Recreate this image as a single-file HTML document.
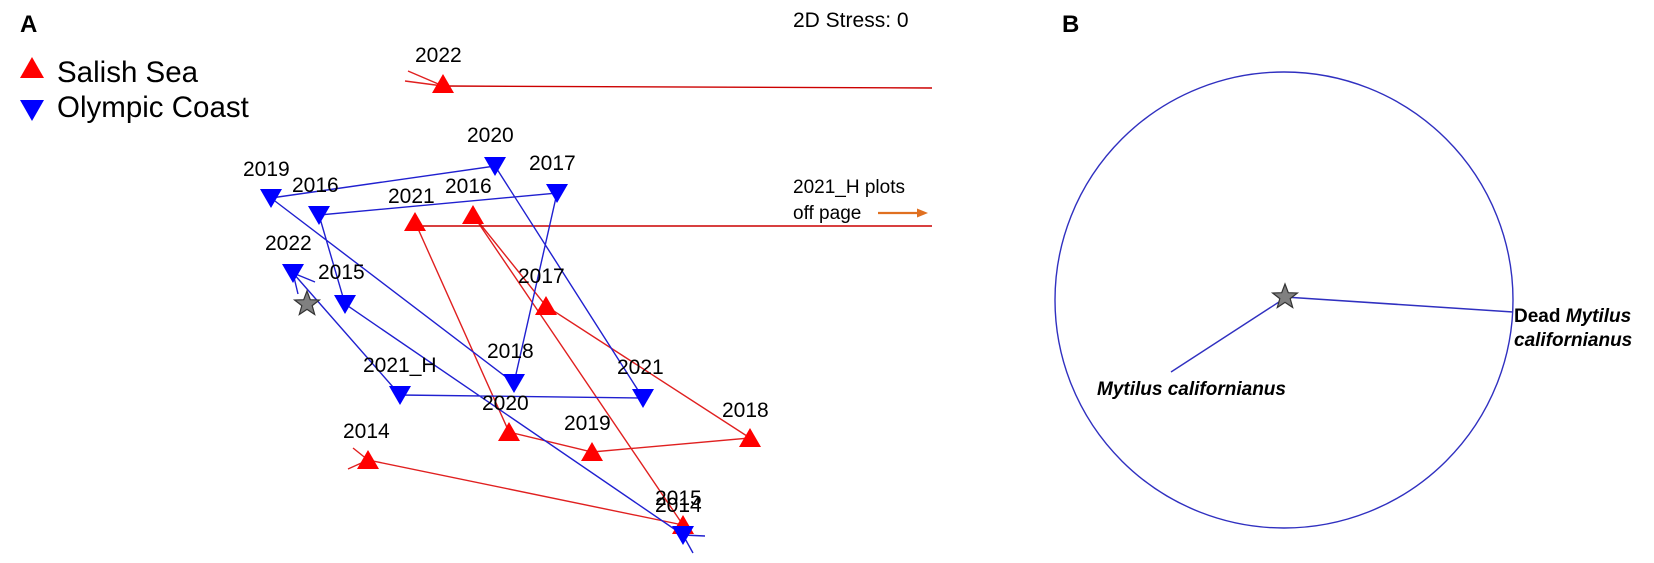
<!DOCTYPE html>
<html><head><style>body{margin:0;background:#fff}svg{display:block}text{font-family:"Liberation Sans",Arial,sans-serif}</style></head>
<body>
<svg width="1654" height="563" viewBox="0 0 1654 563" xmlns="http://www.w3.org/2000/svg">
<defs>
<g id="up"><polygon points="0,-10 -11,9 11,9" fill="#f00"/></g>
<g id="dn"><polygon points="0,10 -11,-9 11,-9" fill="#00f"/></g>
<g id="star"><polygon points="0,-13 3.3,-4.3 12.4,-4 5.2,1.6 7.7,10.5 0,5.4 -7.7,10.5 -5.2,1.6 -12.4,-4 -3.3,-4.3" fill="#808080" stroke="#333" stroke-width="1.2"/></g>
</defs>
<text x="20" y="32" font-size="24" font-weight="bold">A</text>
<polygon points="32,57 20,78 44,78" fill="#f00"/>
<text x="57" y="82" font-size="29.5">Salish Sea</text>
<polygon points="32,121 20,100 44,100" fill="#00f"/>
<text x="57" y="117" font-size="29.5">Olympic Coast</text>
<text x="793" y="27" font-size="21">2D Stress: 0</text>
<g stroke="#e02020" stroke-width="1.4" fill="none">
<polyline points="368,460 683,525 473,215 546,306 750,438 592,452 509,432 415,222"/>
<line x1="415" y1="226" x2="932" y2="226" stroke="#c00"/>
<line x1="932" y1="88" x2="443" y2="86" stroke="#c00"/>
<line x1="353" y1="448" x2="368" y2="460"/>
<line x1="348" y1="469" x2="368" y2="460"/>
<line x1="408" y1="71" x2="443" y2="86"/>
<line x1="405" y1="81" x2="443" y2="86"/>
</g>
<g stroke="#2020d0" stroke-width="1.4" fill="none">
<polyline points="705,536 683,535 345,304 319,215 557,193 514,383 271,198 495,166 643,398 400,395 293,273"/>
<line x1="683" y1="535" x2="693" y2="553"/>
<line x1="293" y1="273" x2="315" y2="282"/>
<line x1="293" y1="273" x2="298" y2="294"/>
</g>
<use href="#star" x="307" y="304"/>
<g>
<use href="#dn" x="271" y="198"/><use href="#dn" x="319" y="215"/><use href="#dn" x="495" y="166"/><use href="#dn" x="557" y="193"/><use href="#dn" x="293" y="273"/><use href="#dn" x="345" y="304"/><use href="#dn" x="514" y="383"/><use href="#dn" x="400" y="395"/><use href="#dn" x="643" y="398"/>
<use href="#up" x="443" y="84"/><use href="#up" x="415" y="222"/><use href="#up" x="473" y="215"/><use href="#up" x="546" y="306"/><use href="#up" x="509" y="432"/><use href="#up" x="592" y="452"/><use href="#up" x="750" y="438"/><use href="#up" x="368" y="460"/><use href="#up" x="683" y="525"/>
<use href="#dn" x="683" y="535"/>
</g>
<g font-size="21">
<text x="415" y="62">2022</text>
<text x="467" y="142">2020</text>
<text x="529" y="170">2017</text>
<text x="243" y="176">2019</text>
<text x="292" y="192">2016</text>
<text x="388" y="203">2021</text>
<text x="445" y="193">2016</text>
<text x="265" y="250">2022</text>
<text x="318" y="279">2015</text>
<text x="518" y="283">2017</text>
<text x="487" y="358">2018</text>
<text x="363" y="372">2021_H</text>
<text x="617" y="374">2021</text>
<text x="482" y="410">2020</text>
<text x="722" y="417">2018</text>
<text x="564" y="430">2019</text>
<text x="343" y="438">2014</text>
<text x="655" y="505">2015</text>
<text x="655" y="512">2014</text>
</g>
<text x="793" y="193" font-size="19">2021_H plots</text>
<text x="793" y="219" font-size="19">off page</text>
<line x1="878" y1="213" x2="920" y2="213" stroke="#e07020" stroke-width="2.2"/>
<polygon points="928,213 917,208.5 917,217.5" fill="#e07020"/>
<text x="1062" y="32" font-size="24" font-weight="bold">B</text>
<ellipse cx="1284" cy="300" rx="229" ry="228" fill="none" stroke="#3030c0" stroke-width="1.4"/>
<line x1="1285" y1="297" x2="1513" y2="312" stroke="#3030c0" stroke-width="1.6"/>
<line x1="1282" y1="300" x2="1171" y2="372" stroke="#3030c0" stroke-width="1.4"/>
<use href="#star" x="1285" y="297"/>
<text x="1514" y="322" font-size="19" font-weight="bold">Dead <tspan font-style="italic">Mytilus</tspan></text>
<text x="1514" y="346" font-size="19" font-weight="bold" font-style="italic">californianus</text>
<text x="1097" y="395" font-size="19" font-weight="bold" font-style="italic">Mytilus californianus</text>
</svg>
</body></html>
